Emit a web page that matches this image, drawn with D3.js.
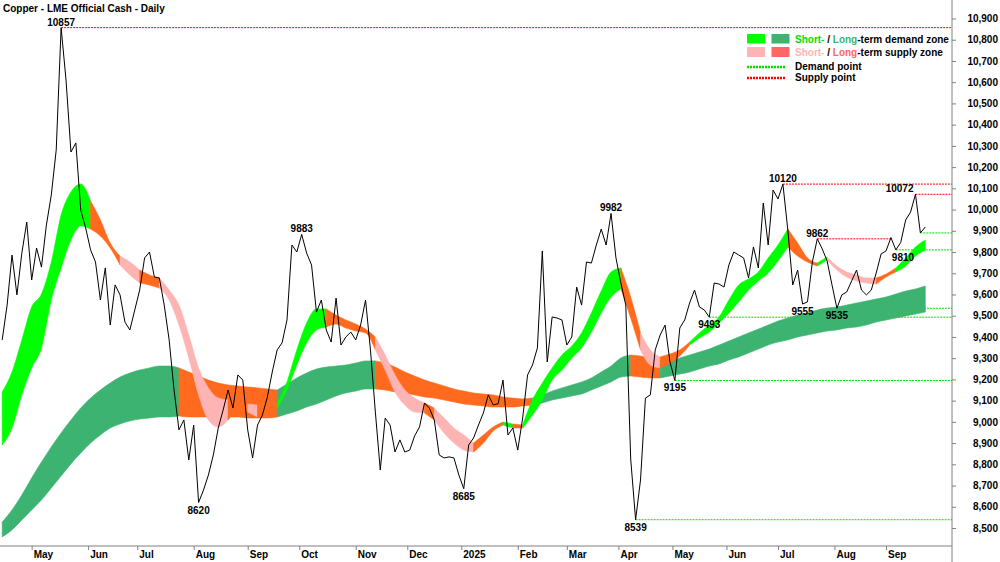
<!DOCTYPE html>
<html>
<head>
<meta charset="utf-8">
<script src="https://d3js.org/d3.v7.min.js"></script>
<style>
    body { margin: 0; background: #fff; }
    svg { display: block; font-family: "Liberation Sans", Arial, sans-serif; font-weight: bold; }
    .axis path { display: none; }
    .axis line { stroke: #808080; }
    .axis text { font-size: 10px; font-weight: bold; fill: #000; font-family: "Liberation Sans", Arial, sans-serif; }
    .frame { stroke: #808080; stroke-width: 1; }
    .price { fill: none; stroke: #000; stroke-width: 1; stroke-linejoin: round; }
    .pivot { font-size: 10px; text-anchor: middle; }
    .demand-pt { stroke: #00e000; stroke-width: 1; stroke-dasharray: 2,1; }
    .supply-pt { stroke: #ff0000; stroke-width: 1; stroke-dasharray: 2,1; }
    .legend text { font-size: 10px; }
</style>
</head>
<body>
<svg id="chart" width="1000" height="562"></svg>
<script>

    // trading days start here, price sampled every 2 days, bands every 4
    var startDay = new Date(2024, 3, 15);
    var priceStep = 2, bandStep = 4;

    var price = [9386, 9550, 9786, 9598, 9795, 9941, 9668, 9819, 9729, 9927,
        10069, 10280, 10857, 10610, 10271, 10314, 9998, 9913, 9810, 9753,
        9574, 9725, 9456, 9645, 9598, 9470, 9433, 9527, 9621, 9772,
        9800, 9682, 9678, 9550, 9386, 9150, 8962, 9009, 8820, 8985,
        8620, 8679, 8750, 8844, 8971, 9056, 9150, 9065, 9221, 9197,
        8962, 8830, 8985, 9032, 9117, 9235, 9339, 9372, 9480, 9833,
        9800, 9883, 9795, 9739, 9517, 9574, 9433, 9376, 9583, 9362,
        9400, 9423, 9386, 9456, 9574, 9339, 9046, 8773, 9018, 8985,
        8858, 8915, 8858, 8867, 8934, 8976, 9089, 9065, 9009, 8844,
        8830, 8835, 8830, 8750, 8685, 8891, 8924, 8985, 9042, 9127,
        9080, 9085, 9197, 8938, 8971, 8867, 9018, 9221, 9268, 9348,
        9805, 9282, 9494, 9489, 9480, 9362, 9400, 9635, 9550, 9753,
        9748, 9833, 9908, 9833, 9982, 9772, 9654, 9550, 8825, 8539,
        8726, 9112, 9127, 9339, 9409, 9456, 9282, 9195, 9442, 9480,
        9560, 9621, 9541, 9527, 9493, 9654, 9649, 9635, 9739, 9800,
        9786, 9772, 9678, 9824, 9725, 10031, 9833, 10092, 10050, 10120,
        9904, 9645, 9715, 9555, 9565, 9753, 9862, 9815, 9758, 9645,
        9535, 9598, 9612, 9664, 9715, 9621, 9598, 9621, 9701, 9791,
        9805, 9868, 9810, 9845, 9951, 9988, 10072, 9890, 9918];

    // short-term zone edges
    var shortTop = [9141, 9235, 9386, 9541, 9602, 9753, 9974, 10083, 10120, 10040,
        9951, 9842, 9781, 9753, 9715, 9692, 9678, 9621, 9550, 9409,
        9254, 9160, 9112, 9103, 9094, 9084, 9079, 9079, 9084, 9188,
        9339, 9466, 9532, 9532, 9503, 9480, 9461, 9437, 9400, 9315,
        9221, 9150, 9112, 9089, 9065, 9018, 8971, 8938, 8900, 8938,
        8976, 8999, 8990, 8985, 9103, 9183, 9254, 9315, 9357, 9419,
        9513, 9616, 9706, 9725, 9588, 9419, 9339, 9306, 9320, 9339,
        9376, 9419, 9456, 9494, 9574, 9645, 9673, 9706, 9772, 9833,
        9908, 9842, 9772, 9748, 9777, 9734, 9706, 9692, 9678, 9678,
        9696, 9725, 9772, 9824, 9857];
    var shortBottom = [8891, 8971, 9127, 9254, 9348, 9574, 9725, 9857, 9923, 9908,
        9875, 9819, 9739, 9692, 9654, 9645, 9630, 9574, 9456, 9301,
        9127, 9009, 8976, 9009, 9046, 9046, 9023, 9056, 9065, 9150,
        9268, 9372, 9433, 9447, 9461, 9442, 9428, 9419, 9339, 9244,
        9141, 9079, 9046, 9042, 9009, 8948, 8900, 8867, 8858, 8900,
        8957, 8985, 8971, 8971, 9032, 9103, 9197, 9244, 9301, 9348,
        9423, 9513, 9588, 9626, 9489, 9339, 9268, 9254, 9277, 9310,
        9362, 9395, 9423, 9466, 9513, 9565, 9621, 9664, 9701, 9758,
        9824, 9781, 9753, 9734, 9762, 9715, 9682, 9664, 9654, 9649,
        9682, 9706, 9734, 9781, 9810];
    // G demand, O supply, P weak supply (one letter per segment)
    var shortZone = 'GGGGGGGGGOOOPPOOPPPPPPPOOPOOGGGGGOOOOOPPPPPOPPPPOOOGOGGGGGGGGGGOOPPOOOGGGGGGGGGGOOOGPPPPPOOGGG';

    // long-term zone edges
    var longTop = [8528, 8585, 8656, 8736, 8811, 8882, 8948, 9009, 9065, 9112,
        9150, 9183, 9211, 9230, 9244, 9254, 9263, 9263, 9254, 9235,
        9216, 9197, 9183, 9174, 9169, 9164, 9160, 9155, 9150, 9178,
        9207, 9230, 9249, 9258, 9263, 9268, 9277, 9287, 9287, 9277,
        9258, 9235, 9216, 9197, 9183, 9169, 9155, 9145, 9136, 9131,
        9127, 9117, 9112, 9108, 9112, 9127, 9145, 9160, 9174, 9188,
        9207, 9235, 9263, 9301, 9315, 9310, 9301, 9291, 9287, 9301,
        9315, 9329, 9343, 9362, 9381, 9400, 9419, 9437, 9456, 9475,
        9489, 9503, 9513, 9527, 9536, 9541, 9550, 9560, 9569, 9579,
        9588, 9602, 9616, 9626, 9640];
    var longBottom = [8458, 8491, 8538, 8585, 8632, 8688, 8745, 8802, 8853, 8900,
        8938, 8971, 8990, 9004, 9013, 9018, 9023, 9023, 9028, 9023,
        9023, 9023, 9023, 9023, 9023, 9018, 9018, 9018, 9023, 9037,
        9051, 9070, 9084, 9103, 9122, 9136, 9145, 9155, 9155, 9150,
        9141, 9136, 9127, 9117, 9112, 9103, 9094, 9084, 9079, 9075,
        9070, 9070, 9070, 9075, 9079, 9089, 9103, 9112, 9122, 9131,
        9150, 9169, 9188, 9211, 9216, 9211, 9207, 9207, 9216, 9225,
        9235, 9249, 9263, 9273, 9291, 9306, 9324, 9343, 9362, 9376,
        9386, 9400, 9409, 9419, 9428, 9433, 9442, 9447, 9456, 9470,
        9480, 9489, 9499, 9508, 9517];
    var longZone = 'D'.repeat(18) + 'S'.repeat(10) + 'D'.repeat(10) + 'S'.repeat(16) +
        'D'.repeat(10) + 'S'.repeat(3) + 'D'.repeat(27);

    var highs = [10857, 9883, 9982, 10120, 9862, 10072];
    var lows = [8620, 8685, 8539, 9195, 9493, 9555, 9535, 9810];
    var supplyPoints = [10857, 10120, 10072, 9862];
    var demandPoints = [8539, 9195, 9493, 9535, 9810, 9890];
    var yTicks = d3.range(8500, 11000, 100);

    var shortColors = { G: '#00ff00', O: '#ff6a1f', P: '#ffb4b4' };
    var longColors = { D: '#3cb371', S: '#ff6a1f' };

    var svg = d3.select('#chart');
    var axisX = 952, axisY = 546;

    var days = d3.timeDay.range(startDay, new Date(2025, 9, 1))
        .filter(function(d) { return d.getDay() !== 0 && d.getDay() !== 6; });
    var lastDay = (price.length - 1) * priceStep;

    var x = d3.scaleLinear().domain([0, lastDay]).range([2.2, 925.3]);
    var y = d3.scaleLinear().domain([8500, 10900]).range([528, 18.5]);

    var g = svg.append('g');

    // demand / supply points, drawn under the zones
    function pointLine(v, cls, broken) {
        var i0 = price.lastIndexOf(v);
        var end = axisX;
        for (var k = i0 + 1; k < price.length; k++) {
            if (broken(price[k])) { end = x(k * priceStep); break; }
        }
        g.append('line').attr('class', cls)
            .attr('x1', x(i0 * priceStep)).attr('x2', end)
            .attr('y1', y(v)).attr('y2', y(v));
    }
    supplyPoints.forEach(function(v) { pointLine(v, 'supply-pt', function(p) { return p > v; }); });
    demandPoints.forEach(function(v) { pointLine(v, 'demand-pt', function(p) { return p < v; }); });

    function drawZone(top, bottom, zone, colors) {
        var area = d3.area()
            .curve(d3.curveMonotoneX)
            .x(function(j) { return x(j * bandStep); })
            .y0(function(j) { return y(bottom[j]); })
            .y1(function(j) { return y(top[j]); });
        var s = 0;
        for (var k = 1; k <= zone.length; k++) {
            if (k === zone.length || zone[k] !== zone[s]) {
                var c = colors[zone[s]];
                g.append('path').datum(d3.range(s, k + 1))
                    .attr('d', area)
                    .attr('fill', c).attr('stroke', c).attr('stroke-width', 0.6);
                s = k;
            }
        }
    }
    drawZone(longTop, longBottom, longZone, longColors);
    drawZone(shortTop, shortBottom, shortZone, shortColors);

    g.append('path').datum(price)
        .attr('class', 'price')
        .attr('d', d3.line()
            .x(function(d, i) { return x(i * priceStep); })
            .y(function(d) { return y(d); }));

    // pivot labels
    var labelAnchor = { 10072: 'end', 9810: 'start' };
    var labelShift = { 10072: -2, 9810: -4 };
    function pivot(v, dy) {
        var i = price.lastIndexOf(v);
        g.append('text').attr('class', 'pivot')
            .attr('x', x(i * priceStep) + (labelShift[v] || 0))
            .attr('y', y(v) + dy)
            .style('text-anchor', labelAnchor[v] || 'middle')
            .text(v);
    }
    highs.forEach(function(v) { pivot(v, -2); });
    lows.forEach(function(v) { pivot(v, 11); });

    // axes
    var monthIdx = d3.range(1, lastDay + 1).filter(function(t) {
        return days[t].getMonth() !== days[t - 1].getMonth();
    });
    var fmtMonth = function(t) {
        var d = days[t];
        return d.getMonth() === 0 ? d3.timeFormat('%Y')(d) : d3.timeFormat('%b')(d);
    };

    var xAxis = svg.append('g').attr('class', 'axis')
        .attr('transform', 'translate(0,' + axisY + ')')
        .call(d3.axisBottom(x).tickValues(monthIdx).tickFormat(fmtMonth).tickSize(4));
    xAxis.selectAll('text').attr('text-anchor', 'start').attr('x', 1.5).attr('y', 5);

    var yAxis = svg.append('g').attr('class', 'axis')
        .attr('transform', 'translate(' + axisX + ',0)')
        .call(d3.axisRight(y).tickValues(yTicks).tickFormat(d3.format(',')).tickSize(4));
    yAxis.selectAll('text').attr('text-anchor', 'end').attr('x', 46);

    svg.append('line').attr('class', 'frame')
        .attr('x1', 0).attr('x2', axisX).attr('y1', axisY).attr('y2', axisY);
    svg.append('line').attr('class', 'frame')
        .attr('x1', axisX).attr('x2', axisX).attr('y1', 0).attr('y2', 562);

    svg.append('text')
        .attr('x', 3).attr('y', 11.5)
        .style('font-size', '10px')
        .text('Copper - LME Official Cash - Daily');

    // legend
    var lg = svg.append('g').attr('class', 'legend').attr('transform', 'translate(747,34)');
    lg.append('rect').attr('x', 0).attr('y', 0).attr('width', 18).attr('height', 9.5).attr('fill', '#00ff00');
    lg.append('rect').attr('x', 24.5).attr('y', 0).attr('width', 18).attr('height', 9.5).attr('fill', '#3cb371');
    lg.append('rect').attr('x', 0).attr('y', 13).attr('width', 18).attr('height', 10).attr('fill', '#ffb4b4');
    lg.append('rect').attr('x', 24.5).attr('y', 13).attr('width', 18).attr('height', 10).attr('fill', '#ff6666');
    lg.append('line').attr('x1', 0).attr('x2', 38).attr('y1', 33).attr('y2', 33)
        .attr('stroke', '#00e000').attr('stroke-width', 2.5).attr('stroke-dasharray', '2,1');
    lg.append('line').attr('x1', 0).attr('x2', 38).attr('y1', 44).attr('y2', 44)
        .attr('stroke', '#ff0000').attr('stroke-width', 2.5).attr('stroke-dasharray', '2,1');

    var t1 = lg.append('text').attr('x', 48).attr('y', 8.5);
    t1.append('tspan').attr('fill', '#00e000').text('Short-');
    t1.append('tspan').text(' / ');
    t1.append('tspan').attr('fill', '#3cb371').text('Long');
    t1.append('tspan').text('-term demand zone');
    var t2 = lg.append('text').attr('x', 48).attr('y', 21.5);
    t2.append('tspan').attr('fill', '#ffb4b4').text('Short-');
    t2.append('tspan').text(' / ');
    t2.append('tspan').attr('fill', '#ff6666').text('Long');
    t2.append('tspan').text('-term supply zone');
    lg.append('text').attr('x', 48).attr('y', 36).text('Demand point');
    lg.append('text').attr('x', 48).attr('y', 47).text('Supply point');

</script>
</body>
</html>
